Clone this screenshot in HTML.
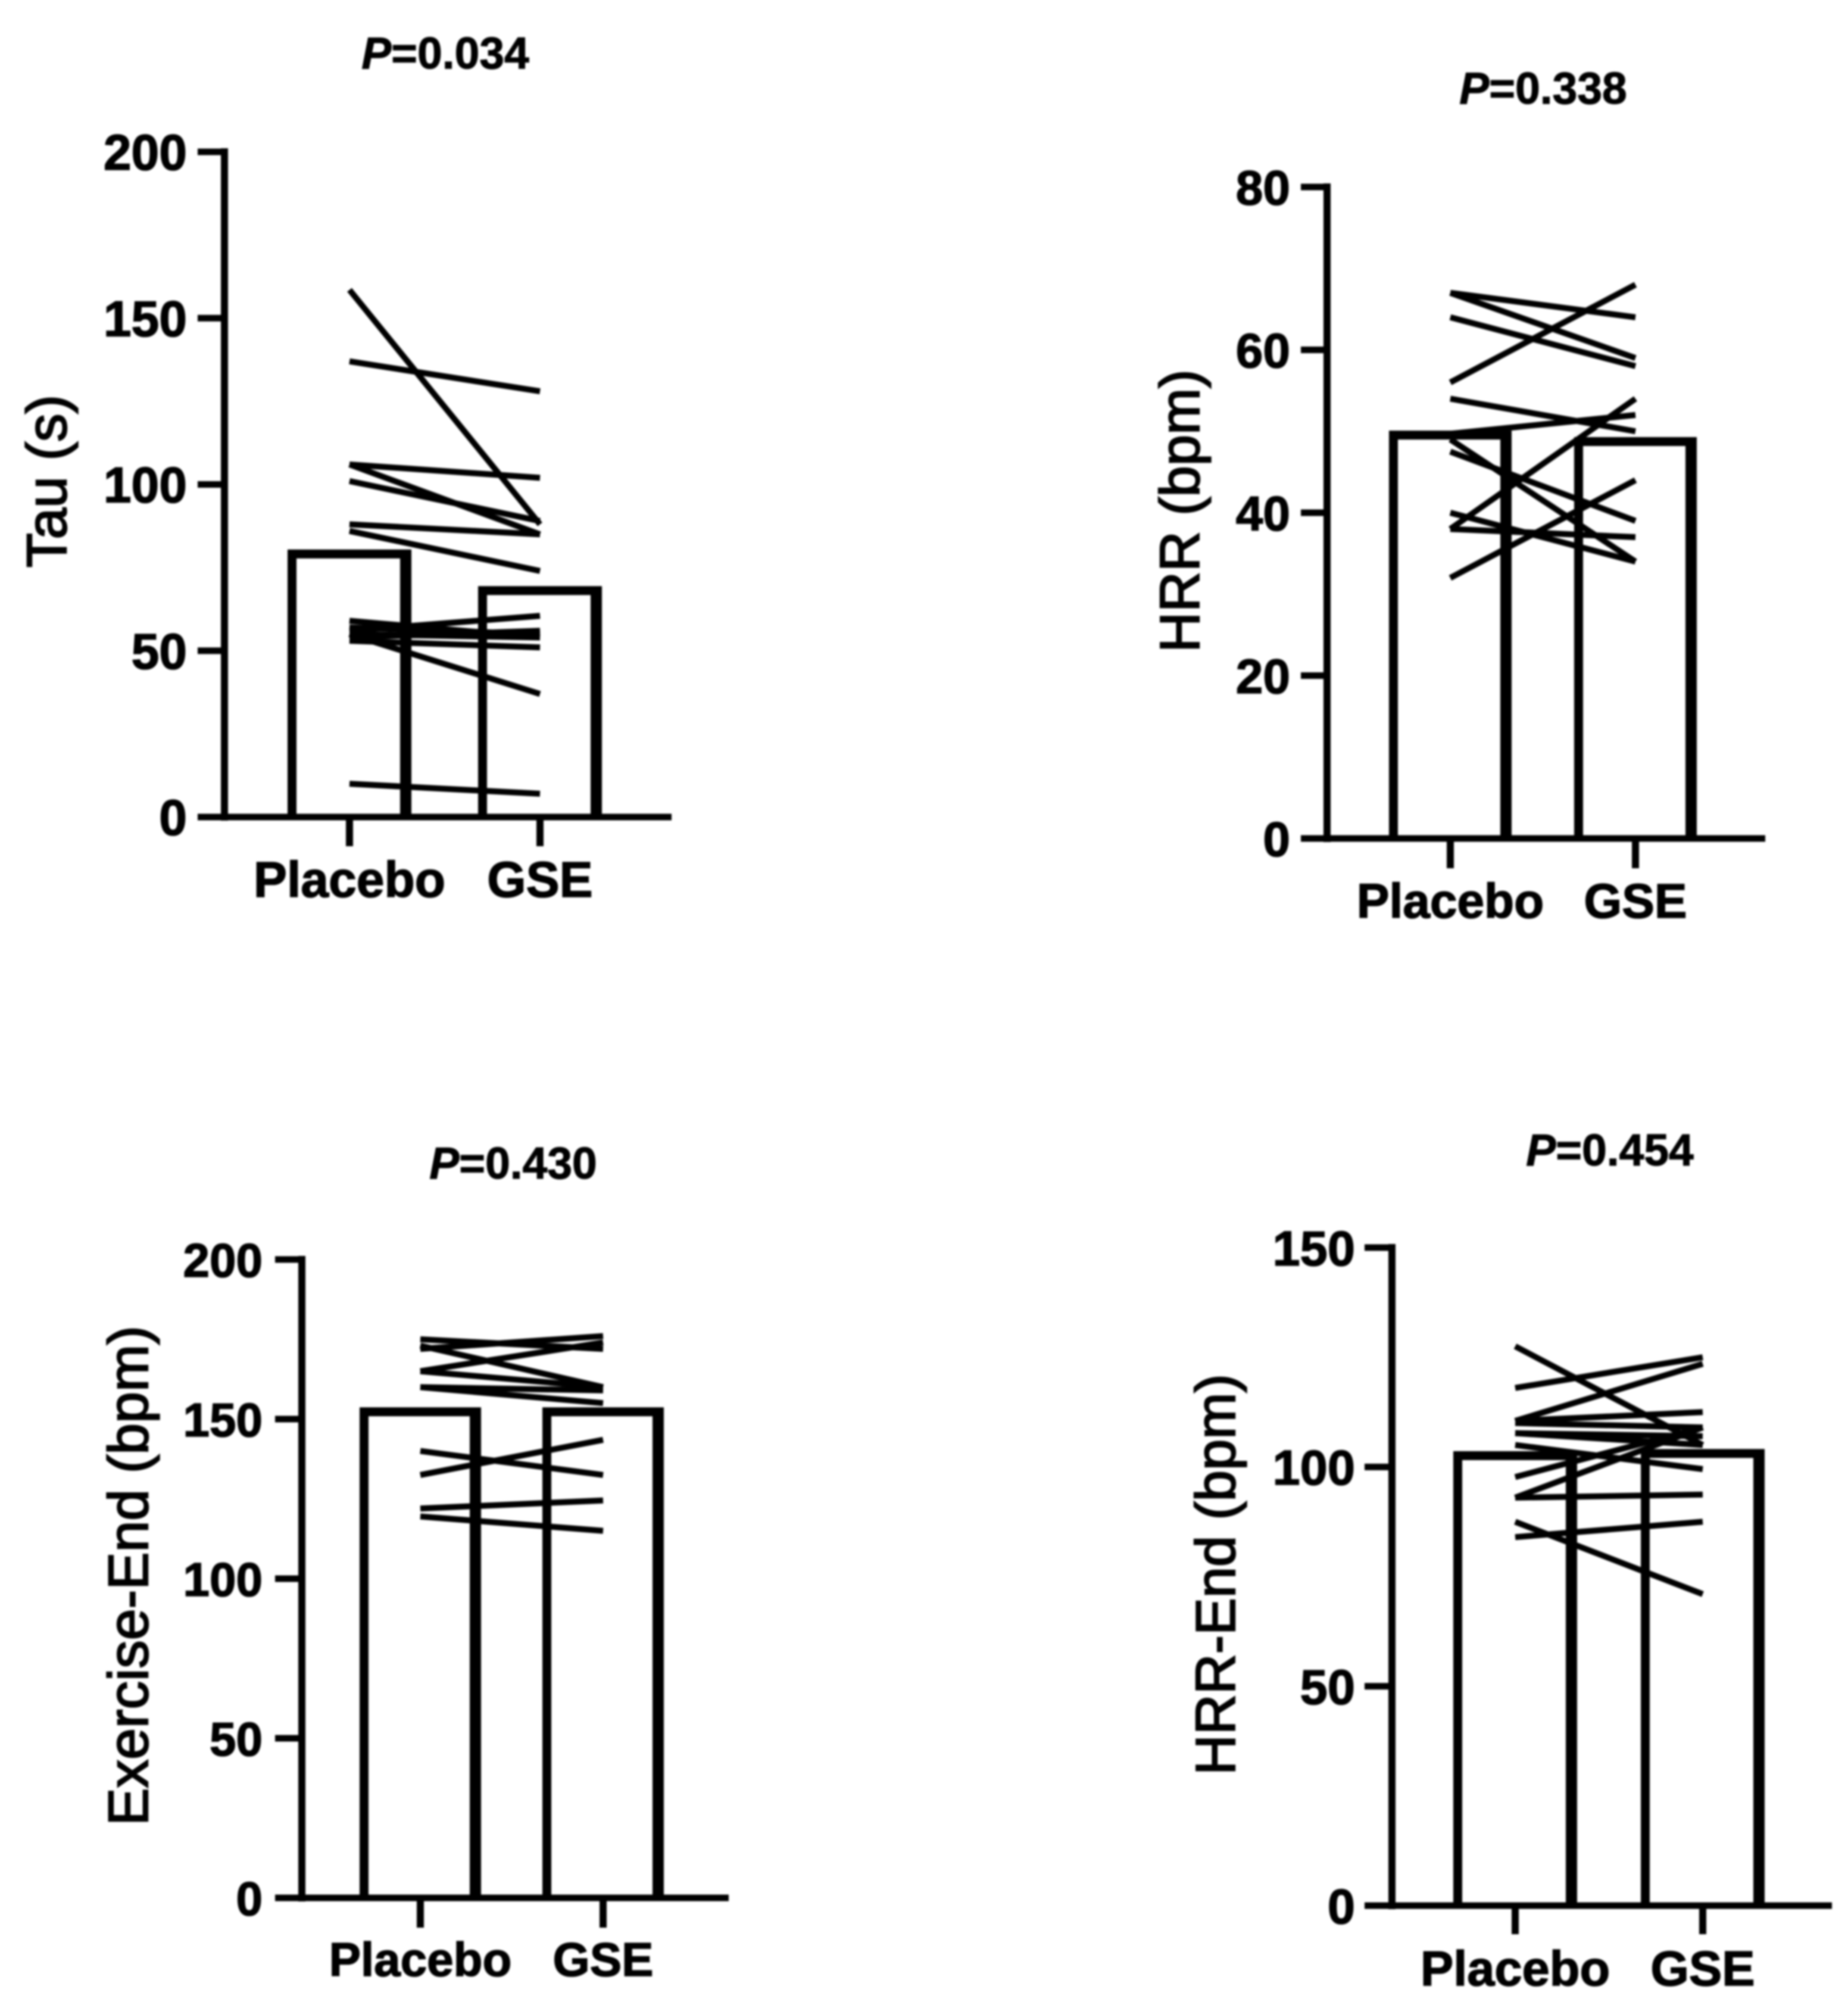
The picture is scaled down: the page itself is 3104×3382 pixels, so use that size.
<!DOCTYPE html>
<html lang="en">
<head>
<meta charset="utf-8">
<title>Paired bar charts: Placebo vs GSE</title>
<style>
  html, body { margin: 0; padding: 0; background: #fff; }
  svg { display: block; }
  text { font-family: "Liberation Sans", Arial, sans-serif; fill: #050505; }
</style>
</head>
<body>
<svg id="figure" xmlns="http://www.w3.org/2000/svg" width="3104" height="3382" viewBox="0 0 3104 3382">
  <defs>
    <filter id="soft" x="-2%" y="-2%" width="104%" height="104%">
      <feGaussianBlur stdDeviation="1.5"></feGaussianBlur>
    </filter>
  </defs>
  <rect x="0" y="0" width="3104" height="3382" fill="#ffffff"></rect>
  <g id="root" filter="url(#soft)"></g>
</svg>
<script>
const categories = ['Placebo', 'GSE'];

const tauTicks = [0, 50, 100, 150, 200];
const tauBars = [79, 68];
const tauPlacebo = [158.5, 137, 106, 106, 101, 88, 86, 59, 57, 56, 55, 54, 53, 55, 10];
const tauGse = [88, 128, 102, 85, 89, 85, 74, 54, 55, 60.5, 54, 56, 51, 37, 7];

const hrrTicks = [0, 20, 40, 60, 80];
const hrrBars = [49.5, 48.7];
const hrrPlacebo = [67, 67, 64, 56, 54, 49.7, 49, 47.5, 40, 38, 38, 32];
const hrrGse = [64, 59, 58, 68, 50, 52, 34, 39, 34, 54, 37, 44];

const exerciseTicks = [0, 50, 100, 150, 200];
const exerciseBars = [152.2, 152.2];
const exercisePlacebo = [175, 173, 172, 165, 165, 160, 160, 140, 132.5, 122, 119.5];
const exerciseGse = [172, 160, 176, 174, 160, 155, 159, 132.5, 143.5, 124.5, 115];

const hrrEndTicks = [0, 50, 100, 150];
const hrrEndBars = [102.5, 103];
const hrrEndPlacebo = [127.5, 118, 110.5, 110.5, 110, 107.7, 107.7, 105, 97.7, 93, 93, 84, 87.5];
const hrrEndGse = [105, 125, 123.5, 112.5, 109, 105, 107, 99.5, 109, 109, 93.7, 87.5, 71];

const panels = [
  { id: 'tau', title: 'Tau (s)', p: 'P', pValue: '=0.034', ticks: tauTicks, bars: tauBars, before: tauPlacebo, after: tauGse,
    axisX: 377, y0: 1372, yTop: 255, left: 332, right: 1128, catA: 587, catB: 907, tickBottom: 1421, halfBar: 104,
    labelRight: 314, xBase: 1506, font: 84, titleX: 111, titleY: 808, titleFont: 95, pX: 748, pY: 115 },
  { id: 'hrr', title: 'HRR (bpm)', p: 'P', pValue: '=0.338', ticks: hrrTicks, bars: hrrBars, before: hrrPlacebo, after: hrrGse,
    axisX: 2229, y0: 1408, yTop: 314, left: 2185, right: 2965, catA: 2436, catB: 2747, tickBottom: 1458, halfBar: 103,
    labelRight: 2167, xBase: 1541, font: 82, titleX: 2014, titleY: 858, titleFont: 94, pX: 2592, pY: 174 },
  { id: 'exercise-end', title: 'Exercise-End (bpm)', p: 'P', pValue: '=0.430', ticks: exerciseTicks, bars: exerciseBars, before: exercisePlacebo, after: exerciseGse,
    axisX: 507, y0: 3187, yTop: 2115, left: 462, right: 1224, catA: 706, catB: 1013, tickBottom: 3237, halfBar: 102,
    labelRight: 441, xBase: 3318, font: 80, titleX: 248, titleY: 2646, titleFont: 95, pX: 862, pY: 1979 },
  { id: 'hrr-end', title: 'HRR-End (bpm)', p: 'P', pValue: '=0.454', ticks: hrrEndTicks, bars: hrrEndBars, before: hrrEndPlacebo, after: hrrEndGse,
    axisX: 2338, y0: 3200, yTop: 2095, left: 2292, right: 3077, catA: 2545, catB: 2860, tickBottom: 3248, halfBar: 104,
    labelRight: 2276, xBase: 3334, font: 83, titleX: 2074, titleY: 2644, titleFont: 94, pX: 2704, pY: 1957 }
];

const NS = 'http://www.w3.org/2000/svg';
const root = document.getElementById('root');

function makeLine(parent, x1, y1, x2, y2, width) {
  const el = document.createElementNS(NS, 'line');
  el.setAttribute('x1', x1);
  el.setAttribute('y1', y1);
  el.setAttribute('x2', x2);
  el.setAttribute('y2', y2);
  el.setAttribute('stroke', '#000000');
  el.setAttribute('stroke-width', width);
  parent.appendChild(el);
  return el;
}

function makeText(parent, content, x, y, size, anchor, weight, outline) {
  const el = document.createElementNS(NS, 'text');
  el.setAttribute('x', x);
  el.setAttribute('y', y);
  el.setAttribute('font-size', size);
  el.setAttribute('text-anchor', anchor);
  el.setAttribute('font-weight', weight);
  el.setAttribute('stroke', '#050505');
  el.setAttribute('stroke-width', outline);
  el.textContent = content;
  parent.appendChild(el);
  return el;
}

function drawPanel(cfg) {
  const yScale = function (v) {
    const top = cfg.ticks[cfg.ticks.length - 1];
    return cfg.y0 - (v / top) * (cfg.y0 - cfg.yTop);
  };
  const xScale = function (i) {
    return i === 0 ? cfg.catA : cfg.catB;
  };

  const g = document.createElementNS(NS, 'g');
  
  
  root.appendChild(g);

  // bars: outline drawn as a hollow shape, thicker on the right wall
  cfg.bars.forEach(function (v, i) {
    const cx = xScale(i);
    const yt = yScale(v) - 8;
    const l = cx - cfg.halfBar;
    const r = cx + cfg.halfBar;
    const d = 'M' + l + ' ' + cfg.y0 + ' V' + yt + ' H' + r + ' V' + cfg.y0 +
      ' H' + (r - 19) + ' V' + (yt + 15) + ' H' + (l + 15) + ' V' + cfg.y0 + ' Z';
    const bar = document.createElementNS(NS, 'path');
    bar.setAttribute('d', d);
    bar.setAttribute('fill', '#000000');
    
    
    g.appendChild(bar);
  });

  // paired subject lines
  cfg.before.forEach(function (v, i) {
    const line = makeLine(g, xScale(0), yScale(v), xScale(1), yScale(cfg.after[i]), 10);
    
    
  });

  // y axis
  const half = 6;
  const yAxis = makeLine(g, cfg.axisX, cfg.yTop - half, cfg.axisX, cfg.y0 + half, 12);
  
  

  const xAxis = makeLine(g, cfg.left, cfg.y0, cfg.right, cfg.y0, 11);
  
  

  cfg.ticks.forEach(function (t) {
    const y = yScale(t);
    const mark = makeLine(g, cfg.left, y, cfg.axisX, y, 11);
    
    
    const label = makeText(g, String(t), cfg.labelRight, y + cfg.font * 0.36, cfg.font, 'end', 'bold', 1.6);
    
    
  });

  categories.forEach(function (name, i) {
    const x = xScale(i);
    const mark = makeLine(g, x, cfg.y0, x, cfg.tickBottom, 12);
    
    
    const label = makeText(g, name, x, cfg.xBase, cfg.font, 'middle', 'bold', 1.6);
    
    
  });

  // y axis title
  const title = makeText(g, cfg.title, 0, 0, cfg.titleFont, 'middle', 'normal', 2.4);
  title.setAttribute('transform', 'translate(' + cfg.titleX + ' ' + cfg.titleY + ') rotate(-90)');
  
  

  // p value annotation
  const pText = makeText(g, '', cfg.pX, cfg.pY, 75, 'middle', 'bold', 1.2);
  
  
  const pItalic = document.createElementNS(NS, 'tspan');
  pItalic.setAttribute('font-style', 'italic');
  pItalic.textContent = cfg.p;
  pText.appendChild(pItalic);
  pText.appendChild(document.createTextNode(cfg.pValue));
}

panels.forEach(drawPanel);
</script>
</body>
</html>
